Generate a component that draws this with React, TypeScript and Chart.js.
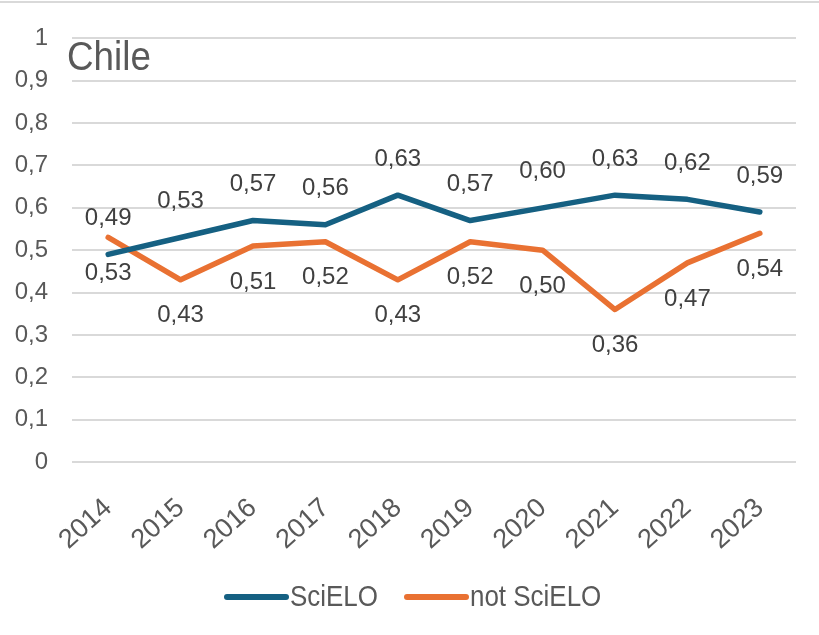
import React, { useEffect, useRef } from "react";
import { Chart, registerables } from "chart.js";

Chart.register(...registerables);

const years = ["2014", "2015", "2016", "2017", "2018", "2019", "2020", "2021", "2022", "2023"];
const scielo = [0.49, 0.53, 0.57, 0.56, 0.63, 0.57, 0.6, 0.63, 0.62, 0.59];
const notScielo = [0.53, 0.43, 0.51, 0.52, 0.43, 0.52, 0.5, 0.36, 0.47, 0.54];
const seriesNames = ["SciELO", "not SciELO"];
const seriesColors = ["#156082", "#E97132"];
const titleText = "Chile";

const FONT = "'Liberation Sans', Arial, sans-serif";

const fmt = (v: number, d: number) => v.toFixed(d).replace(".", ",");

const decorPlugin = {
  id: "decor",
  afterDatasetsDraw(chart: any) {
    const ctx = chart.ctx;
    ctx.save();
    chart.data.datasets.forEach((ds: any, di: number) => {
      const meta = chart.getDatasetMeta(di);
      meta.data.forEach((pt: any, i: number) => {
        const v = ds.data[i];
        ctx.font = `24px ${FONT}`;
        ctx.fillStyle = "#404040";
        ctx.textAlign = "center";
        ctx.textBaseline = "middle";
        const dy = di === 0 ? -36 : 36;
        ctx.fillText(fmt(v, 2), pt.x, pt.y + dy);
      });
    });
    ctx.restore();
  },
  afterDraw(chart: any) {
    const ctx = chart.ctx;
    ctx.save();
    ctx.strokeStyle = "#d9d9d9";
    ctx.lineWidth = 2;
    ctx.beginPath();
    ctx.moveTo(0, 2);
    ctx.lineTo(chart.width, 2);
    ctx.stroke();
    ctx.fillStyle = "#595959";
    ctx.font = `40px ${FONT}`;
    ctx.textAlign = "left";
    ctx.textBaseline = "alphabetic";
    ctx.save();
    ctx.translate(67, 70);
    ctx.scale(0.92, 1);
    ctx.fillText(titleText, 0, 0);
    ctx.restore();
    const items = [
      { x: 227, name: seriesNames[0], color: seriesColors[0] },
      { x: 407, name: seriesNames[1], color: seriesColors[1] },
    ];
    const ly = 597;
    items.forEach((it) => {
      ctx.strokeStyle = it.color;
      ctx.lineWidth = 6;
      ctx.lineCap = "round";
      ctx.beginPath();
      ctx.moveTo(it.x, ly);
      ctx.lineTo(it.x + 59, ly);
      ctx.stroke();
      ctx.save();
      ctx.translate(it.x + 63, ly);
      ctx.scale(0.865, 1);
      ctx.font = `30px ${FONT}`;
      ctx.fillStyle = "#595959";
      ctx.textAlign = "left";
      ctx.textBaseline = "middle";
      ctx.fillText(it.name, 0, 1);
      ctx.restore();
    });
    ctx.restore();
  },
};

export default function App() {
  const ref = useRef<HTMLCanvasElement | null>(null);
  useEffect(() => {
    document.body.style.margin = "0";
    const canvas = ref.current!;
    const mk = (label: string, data: number[], color: string) => ({
      label,
      data,
      borderColor: color,
      backgroundColor: color,
      borderWidth: 5.5,
      pointRadius: 0,
      borderCapStyle: "round",
      borderJoinStyle: "round",
      tension: 0,
    });
    const chart = new Chart(canvas, {
      type: "line",
      data: {
        labels: years,
        datasets: [
          mk(seriesNames[0], scielo, seriesColors[0]),
          mk(seriesNames[1], notScielo, seriesColors[1]),
        ],
      },
      options: {
        responsive: false,
        animation: false,
        devicePixelRatio: 1,
        layout: { padding: { left: 0, right: 23, top: 33, bottom: 0 } },
        plugins: {
          legend: { display: false },
          title: { display: false },
          tooltip: { enabled: false },
        },
        scales: {
          x: {
            offset: true,
            grid: { display: false, drawTicks: false },
            border: { display: false },
            ticks: {
              autoSkip: false,
              minRotation: 42,
              maxRotation: 42,
              padding: 30,
              color: "#595959",
              font: { family: FONT, size: 27 },
            },
            afterFit: (s: any) => {
              s.height = 173;
            },
          },
          y: {
            min: 0,
            max: 1,
            grid: { color: "#d9d9d9", lineWidth: 2, drawTicks: false },
            border: { display: false },
            ticks: {
              stepSize: 0.1,
              padding: 24,
              color: "#595959",
              font: { family: FONT, size: 24 },
              callback: (v: any) => {
                const r = Math.round(Number(v) * 10) / 10;
                if (r === 0) return "0";
                if (r === 1) return "1";
                return fmt(r, 1);
              },
            },
            afterFit: (s: any) => {
              s.width = 72;
            },
          },
        },
      } as any,
      plugins: [decorPlugin],
    });
    return () => chart.destroy();
  }, []);
  return (
    <div style={{ position: "absolute", left: 0, top: 0, width: 819, height: 635, background: "#fff" }}>
      <canvas ref={ref} width={819} height={635} style={{ width: 819, height: 635, display: "block" }} />
    </div>
  );
}
